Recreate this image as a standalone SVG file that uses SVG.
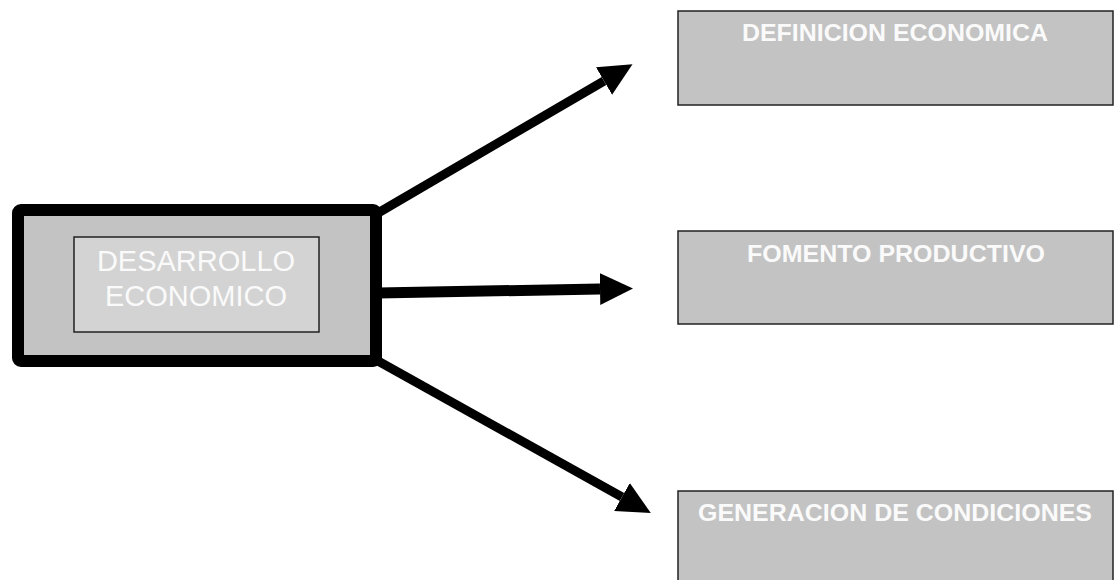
<svg xmlns="http://www.w3.org/2000/svg" width="1115" height="580" viewBox="0 0 1115 580">
<style>
.box{fill:#c3c3c3;stroke:#222;stroke-width:1.5}
.lbl{font-family:"Liberation Sans",Arial,sans-serif;font-weight:bold;font-size:24px;fill:#fafafa;text-anchor:middle}
.main{font-family:"Liberation Sans",Arial,sans-serif;font-size:29px;fill:#fafafa;text-anchor:middle}
.conn{stroke:#000;fill:none}
</style>
<defs>
<marker id="ah" markerUnits="userSpaceOnUse" markerWidth="34" markerHeight="32" refX="0" refY="16" orient="auto" viewBox="0 0 34 32">
<path d="M0,0 L33,16 L0,32 z" fill="#000"/>
</marker>
</defs>
<rect width="1115" height="580" fill="#fff"/>
<g id="connectors">
<line class="conn" x1="378" y1="213" x2="604" y2="81" stroke-width="9" marker-end="url(#ah)"/>
<line class="conn" x1="378" y1="293" x2="600" y2="289" stroke-width="11" marker-end="url(#ah)"/>
<line class="conn" x1="378" y1="361" x2="622" y2="497" stroke-width="9" marker-end="url(#ah)"/>
</g>
<g id="n-desarrollo">
<rect x="18" y="210" width="358" height="151" rx="3" fill="#c3c3c3" stroke="#000" stroke-width="12"/>
<rect x="74" y="237" width="245" height="95" fill="#d3d3d3" stroke="#222" stroke-width="1.5"/>
<text class="main" x="196" y="271">DESARROLLO</text>
<text class="main" x="196" y="306">ECONOMICO</text>
</g>
<g id="n-definicion">
<rect class="box" x="678" y="11" width="435" height="94"/>
<text class="lbl" x="895" y="41" textLength="306" lengthAdjust="spacingAndGlyphs">DEFINICION ECONOMICA</text>
</g>
<g id="n-fomento">
<rect class="box" x="678" y="231" width="435" height="93"/>
<text class="lbl" x="896" y="262" textLength="298" lengthAdjust="spacingAndGlyphs">FOMENTO PRODUCTIVO</text>
</g>
<g id="n-generacion">
<rect class="box" x="678" y="491" width="435" height="110"/>
<text class="lbl" x="895" y="521" textLength="394" lengthAdjust="spacingAndGlyphs">GENERACION DE CONDICIONES</text>
</g>
</svg>
